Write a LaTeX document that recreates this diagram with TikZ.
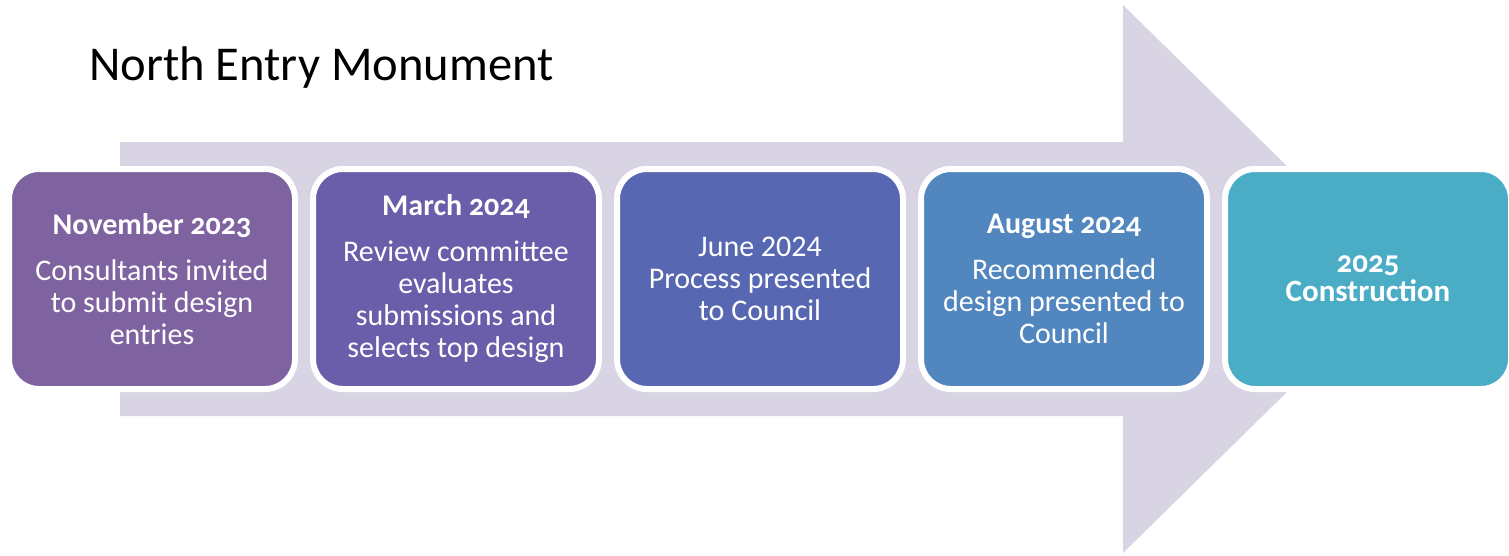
\documentclass[tikz,border=0pt]{standalone}
\usepackage{fontspec}
\setmainfont{Carlito}
\newfontfamily\headfont[Numbers=OldStyle]{Carlito}
\definecolor{neArrow}{HTML}{D8D4E3}
\definecolor{neText}{HTML}{000000}
\definecolor{neNov}{HTML}{7F63A0}
\definecolor{neMar}{HTML}{6A5EAA}
\definecolor{neJun}{HTML}{5767B2}
\definecolor{neAug}{HTML}{5186BF}
\definecolor{neCon}{HTML}{4BACC6}
\usetikzlibrary{positioning}

\tikzset{
  stage/.style={draw=white, line width=3pt, rounded corners=15pt,
    minimum width=143pt, minimum height=110pt, inner sep=0pt,
    align=center, text=white, font=\fontsize{15}{16}\selectfont}
}
\newcommand{\stagehead}[1]{{\headfont\bfseries\fontsize{15}{16}\selectfont #1}\\[7pt]}

\begin{document}
\begin{tikzpicture}[x=0.5pt, y=-0.5pt, node distance=6pt]
  \useasboundingbox (0,0) rectangle (1509,556);
  % background arrow
  \fill[neArrow] (120,142) -- (1123,142) -- (1123,5) -- (1402,279)
    -- (1123,553) -- (1123,416) -- (120,416) -- cycle;
  \node[font=\fontsize{24.3}{30}\selectfont, text=neText, anchor=west] (title) at (82,68) {North Entry Monument};
  % stages
  \node[stage, fill=neNov] (nov) at (152,279) {\stagehead{November 2023}Consultants invited\\to submit design\\entries};
  \node[stage, fill=neMar, right=of nov] (mar) {\stagehead{March 2024}Review committee\\evaluates\\submissions and\\selects top design};
  \node[stage, fill=neJun, right=of mar] (jun) {June 2024\\Process presented\\to Council};
  \node[stage, fill=neAug, right=of jun] (aug) {\stagehead{August 2024}Recommended\\design presented to\\Council};
  \node[stage, fill=neCon, right=of aug, font=\headfont\bfseries\fontsize{15.5}{14.5}\selectfont] (con) {2025\\Construction};
\end{tikzpicture}
\end{document}
